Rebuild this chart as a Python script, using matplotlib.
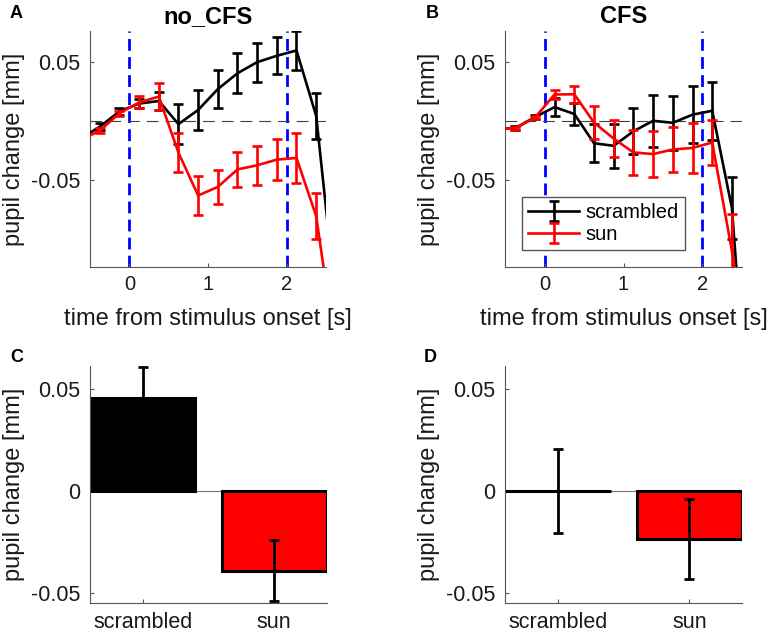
import matplotlib
matplotlib.use("Agg")
import matplotlib.pyplot as plt

plt.rcParams["font.family"] = ["Liberation Sans", "DejaVu Sans"]
plt.rcParams["axes.unicode_minus"] = False
plt.rcParams["lines.scale_dashes"] = False

# centres of the 250 ms bins (first and last fall outside the shown window)
t = [-0.625, -0.375, -0.125, 0.125, 0.375, 0.625, 0.875, 1.125,
     1.375, 1.625, 1.875, 2.125, 2.375, 2.625]

# no_CFS time course
nocfs_scr = [-0.0148, -0.0046, 0.0084, 0.0150, 0.0172, -0.0024, 0.0096, 0.0273,
             0.0407, 0.0501, 0.0555, 0.0600, 0.0046, -0.152]
nocfs_scr_err = [0.003, 0.003, 0.003, 0.004, 0.0075, 0.0168, 0.017, 0.0162,
                 0.0169, 0.0165, 0.0157, 0.0165, 0.0193, 0.02]
nocfs_sun = [-0.0162, -0.0079, 0.0068, 0.0160, 0.0209, -0.0267, -0.0629, -0.0556,
             -0.0408, -0.0373, -0.0325, -0.0311, -0.0803, -0.196]
nocfs_sun_err = [0.002, 0.002, 0.002, 0.005, 0.0113, 0.0165, 0.0165, 0.0144,
                 0.0151, 0.0167, 0.0172, 0.0215, 0.0198, 0.02]

# CFS time course
cfs_scr = [-0.0062, -0.0059, 0.0035, 0.0120, 0.0062, -0.0186, -0.0208, -0.0085,
           0.0004, -0.0013, 0.0056, 0.0089, -0.0737, -0.30]
cfs_scr_err = [0.0015, 0.0015, 0.002, 0.0075, 0.0092, 0.0161, 0.0185, 0.0195,
               0.0219, 0.023, 0.0243, 0.0247, 0.0263, 0.03]
cfs_sun = [-0.0062, -0.0060, 0.0030, 0.0227, 0.0229, -0.0011, -0.0147, -0.0264,
           -0.0278, -0.0239, -0.0226, -0.0180, -0.110, -0.21]
cfs_sun_err = [0.0015, 0.0015, 0.0015, 0.0038, 0.007, 0.0141, 0.0158, 0.019,
               0.0196, 0.0194, 0.021, 0.019, 0.031, 0.03]

# averages in the 0-2 s window
conds = ["scrambled", "sun"]
nocfs_mean = [0.0458, -0.0392]
nocfs_err = [0.0154, 0.0152]
cfs_mean = [0.0, -0.0235]
cfs_err = [0.0205, 0.0197]

W, H = 772, 636
fig = plt.figure(figsize=(W / 100, H / 100), dpi=100)


def box(left, top, w, h):
    return fig.add_axes([left / W, 1 - (top + h) / H, w / W, h / H])


def style(ax):
    for s in ["top", "right"]:
        ax.spines[s].set_visible(False)
    for s in ["left", "bottom"]:
        ax.spines[s].set_color("#555555")
        ax.spines[s].set_linewidth(0.8)
    ax.tick_params(direction="in", length=3, width=0.8, color="#555555",
                   labelcolor="#1a1a1a", labelsize=15.5)
    ax.tick_params(axis="y", pad=7)
    ax.set_ylabel("pupil change [mm]", fontsize=17, color="#1a1a1a")
    ax.yaxis.set_label_coords(-0.275, 0.5)


def timecourse(ax, scr, scr_err, sun, sun_err, title):
    ax.axvline(0, color="blue", lw=2.0, dashes=(8.5, 4.5), zorder=1)
    ax.axvline(2, color="blue", lw=2.0, dashes=(8.5, 4.5), zorder=1)
    ax.axhline(0, color="#404040", lw=0.8, dashes=(8.5, 5), zorder=1)
    ax.errorbar(t, scr, yerr=scr_err, color="black", lw=1.9, elinewidth=1.9,
                capsize=3.8, capthick=1.9, label="scrambled", zorder=3)
    ax.errorbar(t, sun, yerr=sun_err, color="red", lw=1.9, elinewidth=1.9,
                capsize=3.8, capthick=1.9, label="sun", zorder=4)
    ax.set_xlim(-0.5, 2.5)
    ax.set_ylim(-0.1235, 0.0765)
    ax.set_xticks([0, 1, 2])
    ax.set_yticks([-0.05, 0.05])
    ax.set_yticklabels(["-0.05", "0.05"])
    style(ax)
    ax.tick_params(axis="x", labelsize=14.5, pad=6)
    ax.set_xlabel("time from stimulus onset [s]", fontsize=17, color="#1a1a1a")
    ax.xaxis.set_label_coords(0.5, -0.175)
    ax.set_title(title, fontsize=17, fontweight="bold", pad=6)


def bars(ax, means, errs):
    ax.axhline(0, color="#777777", lw=0.8, zorder=1)
    ax.bar([1, 2], means, width=0.8, color=["black", "red"], edgecolor="black",
           linewidth=2.2, zorder=2)
    ax.errorbar([1, 2], means, yerr=errs, fmt="none", ecolor="black",
                elinewidth=2.0, capsize=3.5, capthick=2.0, zorder=3)
    ax.set_xlim(0.6, 2.4)
    ax.set_ylim(-0.055, 0.0615)
    ax.set_xticks([1, 2])
    ax.set_xticklabels(conds)
    ax.set_yticks([-0.05, 0, 0.05])
    ax.set_yticklabels(["-0.05", "0", "0.05"])
    style(ax)
    ax.tick_params(axis="x", pad=7)


axA = box(90, 31, 236, 236)
timecourse(axA, nocfs_scr, nocfs_scr_err, nocfs_sun, nocfs_sun_err, "no_CFS")

axB = box(505.3, 31, 236.5, 236)
timecourse(axB, cfs_scr, cfs_scr_err, cfs_sun, cfs_sun_err, "CFS")
axB.legend(loc="lower left", bbox_to_anchor=(0.072, 0.072), borderaxespad=0,
           fancybox=False, edgecolor="#555555", framealpha=1, fontsize=14.5,
           handlelength=2.5, handletextpad=0.35, borderpad=0.3, labelspacing=0.15)

axC = box(90, 366, 236.7, 236.7)
bars(axC, nocfs_mean, nocfs_err)

axD = box(505.3, 366, 236.7, 236.7)
bars(axD, cfs_mean, cfs_err)

for letter, x, y in [("A", 16, 14), ("B", 432, 14), ("C", 17, 357), ("D", 430, 357)]:
    fig.text(x / W, 1 - y / H, letter, fontsize=13, fontweight="bold",
             ha="center", va="center")

fig.savefig("out.png", dpi=100)
